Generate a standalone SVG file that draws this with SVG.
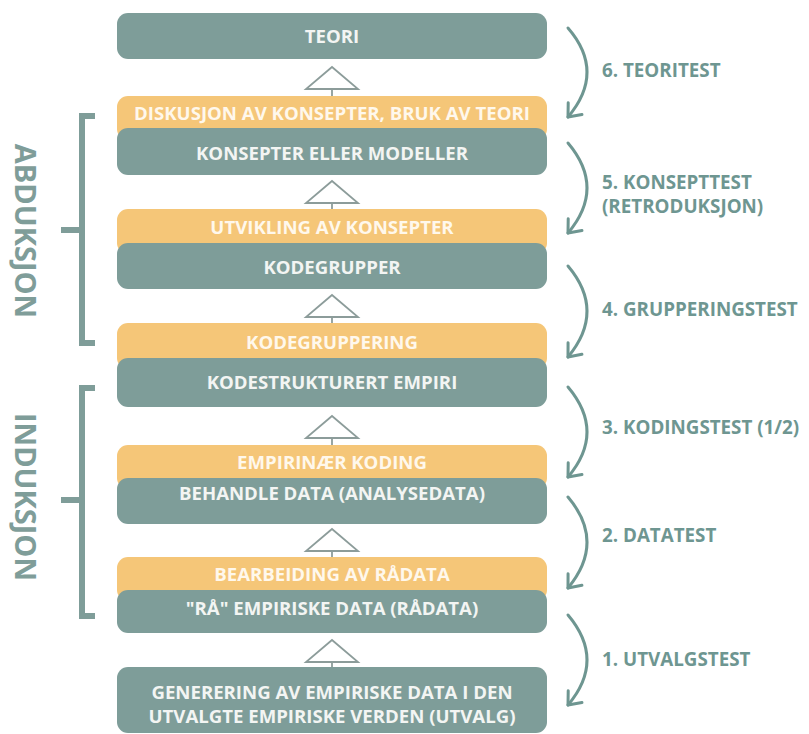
<svg xmlns="http://www.w3.org/2000/svg" width="809" height="734" viewBox="0 0 809 734">
<defs>
<style>
.teal{fill:#7e9d99}
.orange{fill:#f5c678}
.bt{font-family:"Open Sans",Lato,sans-serif;font-weight:700;font-size:18.6px;fill:#f3f5f3;text-anchor:middle}
.ot{font-family:"Open Sans",Lato,sans-serif;font-weight:700;font-size:18.6px;fill:#fff8ec;text-anchor:middle}
.lbl{font-family:"Open Sans",Lato,sans-serif;font-weight:700;font-size:18.8px;fill:#6e9691}
.side{font-family:"Open Sans",Lato,sans-serif;font-weight:700;font-size:29px;fill:#7f9d99}
.tri{fill:#fff;stroke:#8c9c9a;stroke-width:1.8}
.stem{stroke:#8c9c9a;stroke-width:1.8}
.arc{fill:none;stroke:#6e9691;stroke-width:3;stroke-linecap:round}
.br{fill:none;stroke:#7f9d99;stroke-width:6}
</style>
<marker id="ah" viewBox="-14 -12 16 24" refX="0" refY="0" markerWidth="16" markerHeight="24" markerUnits="userSpaceOnUse" orient="auto">
<path d="M-11,-9 L0,0 L-11,9" fill="none" stroke="#6e9691" stroke-width="3" stroke-linecap="round" stroke-linejoin="round"/>
</marker>
<path id="tr" d="M0,0 L26,22 L-26,22 Z"/>
</defs>
<rect width="809" height="734" fill="#fff"/>

<g id="n-teori">
<rect class="teal" x="117" y="13" width="430" height="46" rx="11"/>
<text class="bt" x="332" y="43">TEORI</text>
</g>

<g id="n-diskusjon">
<rect class="orange" x="117" y="96" width="430" height="44" rx="11"/>
<text class="ot" x="332" y="119.5">DISKUSJON AV KONSEPTER, BRUK AV TEORI</text>
</g>
<g id="n-konsepter">
<rect class="teal" x="117" y="128" width="430" height="47" rx="11"/>
<text class="bt" x="332" y="160">KONSEPTER ELLER MODELLER</text>
</g>

<g id="n-utvikling">
<rect class="orange" x="117" y="209" width="430" height="45" rx="11"/>
<text class="ot" x="332" y="234">UTVIKLING AV KONSEPTER</text>
</g>
<g id="n-kodegrupper">
<rect class="teal" x="117" y="243" width="430" height="46" rx="11"/>
<text class="bt" x="332" y="274">KODEGRUPPER</text>
</g>

<g id="n-kodegruppering">
<rect class="orange" x="117" y="323" width="430" height="46" rx="11"/>
<text class="ot" x="332" y="349">KODEGRUPPERING</text>
</g>
<g id="n-kodestrukturert">
<rect class="teal" x="117" y="358" width="430" height="49" rx="11"/>
<text class="bt" x="332" y="389">KODESTRUKTURERT EMPIRI</text>
</g>

<g id="n-empirinaer">
<rect class="orange" x="117" y="445" width="430" height="44" rx="11"/>
<text class="ot" x="332" y="469">EMPIRINÆR KODING</text>
</g>
<g id="n-behandle">
<rect class="teal" x="117" y="478" width="430" height="46" rx="11"/>
<text class="bt" x="332" y="500">BEHANDLE DATA (ANALYSEDATA)</text>
</g>

<g id="n-bearbeiding">
<rect class="orange" x="117" y="557" width="430" height="44" rx="11"/>
<text class="ot" x="332" y="581">BEARBEIDING AV RÅDATA</text>
</g>
<g id="n-raa">
<rect class="teal" x="117" y="590" width="430" height="43" rx="11"/>
<text class="bt" x="332" y="615">"RÅ" EMPIRISKE DATA (RÅDATA)</text>
</g>

<g id="n-generering">
<rect class="teal" x="117" y="667" width="430" height="66" rx="11"/>
<text class="bt" x="332" y="699">GENERERING AV EMPIRISKE DATA I DEN</text>
<text class="bt" x="332" y="723">UTVALGTE EMPIRISKE VERDEN (UTVALG)</text>
</g>

<g id="connectors">
<g id="up-arrows">
<line class="stem" x1="332" y1="89" x2="332" y2="96"/><use href="#tr" class="tri" x="332" y="67"/>
<line class="stem" x1="332" y1="203" x2="332" y2="209"/><use href="#tr" class="tri" x="332" y="181"/>
<line class="stem" x1="332" y1="317" x2="332" y2="323"/><use href="#tr" class="tri" x="332" y="295"/>
<line class="stem" x1="332" y1="438" x2="332" y2="445"/><use href="#tr" class="tri" x="332" y="416"/>
<line class="stem" x1="332" y1="551" x2="332" y2="557"/><use href="#tr" class="tri" x="332" y="529"/>
<line class="stem" x1="332" y1="662" x2="332" y2="667"/><use href="#tr" class="tri" x="332" y="640"/>
</g>
<g id="tests">
<path class="arc" marker-end="url(#ah)" d="M568,28 Q606,72 568,117"/>
<path class="arc" marker-end="url(#ah)" d="M568,143 Q606,188 568,233"/>
<path class="arc" marker-end="url(#ah)" d="M568,266 Q606,311 568,357"/>
<path class="arc" marker-end="url(#ah)" d="M568,387 Q606,432 568,477"/>
<path class="arc" marker-end="url(#ah)" d="M568,497 Q606,542 568,588"/>
<path class="arc" marker-end="url(#ah)" d="M568,615 Q606,660 568,705"/>
</g>
<g id="brackets">
<path class="br" d="M95,116 H82 V343 H95 M82,230 H61"/>
<path class="br" d="M95,388 H82 V616 H95 M82,500 H61"/>
</g>
</g>

<g id="labels">
<text class="lbl" x="602" y="77">6. TEORITEST</text>
<text class="lbl" x="602" y="189">5. KONSEPTTEST</text>
<text class="lbl" x="602" y="213">(RETRODUKSJON)</text>
<text class="lbl" x="602" y="316">4. GRUPPERINGSTEST</text>
<text class="lbl" x="602" y="434">3. KODINGSTEST (1/2)</text>
<text class="lbl" x="602" y="542">2. DATATEST</text>
<text class="lbl" x="602" y="666">1. UTVALGSTEST</text>
<text class="side" transform="translate(15,231) rotate(90)" text-anchor="middle">ABDUKSJON</text>
<text class="side" transform="translate(15,497) rotate(90)" text-anchor="middle">INDUKSJON</text>
</g>
</svg>
